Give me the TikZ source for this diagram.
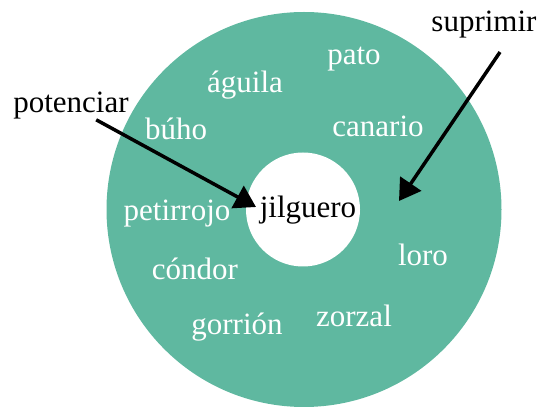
\documentclass[tikz,border=0pt]{standalone}
\usepackage{fontspec}
\setmainfont{Liberation Serif}
\usetikzlibrary{arrows.meta}
\definecolor{ringgreen}{HTML}{5FB8A0}
\begin{document}
\begin{tikzpicture}[x=1pt, y=1pt,
    word/.style={text=white, inner sep=0pt, anchor=base, font=\fontsize{31}{37}\selectfont},
    label/.style={word, text=black},
    pointer/.style={line width=3.5pt, -{Triangle[length=21pt, width=25pt]}}]
    \useasboundingbox (0, 0) rectangle (541, 407);
    % ring
    \fill[ringgreen] (304, 197.5) circle (197.5);
    \fill[white] (303, 197.5) circle (57);
    % birds
    \node[label] (jilguero) at (308, 189) {jilguero};
    \node[word] (pato) at (354, 342) {pato};
    \node[word] (aguila) at (245, 314) {águila};
    \node[word] (buho) at (176, 267) {búho};
    \node[word] (canario) at (378, 270) {canario};
    \node[word] (petirrojo) at (177, 186) {petirrojo};
    \node[word] (loro) at (423, 141) {loro};
    \node[word] (condor) at (195, 127) {cóndor};
    \node[word] (zorzal) at (354, 80) {zorzal};
    \node[word] (gorrion) at (237, 72) {gorrión};
    % labels
    \node[label] (potenciar) at (71, 294) {potenciar};
    \node[label] (suprimir) at (484, 375) {suprimir};
    \coordinate (potTip) at (256, 200);
    \coordinate (supTip) at (399, 206);
    \draw[pointer] (potenciar) -- (potTip);
    \draw[pointer, shorten <=16pt] ([xshift=25pt]suprimir.south) -- (supTip);
  \end{tikzpicture}
\end{document}
